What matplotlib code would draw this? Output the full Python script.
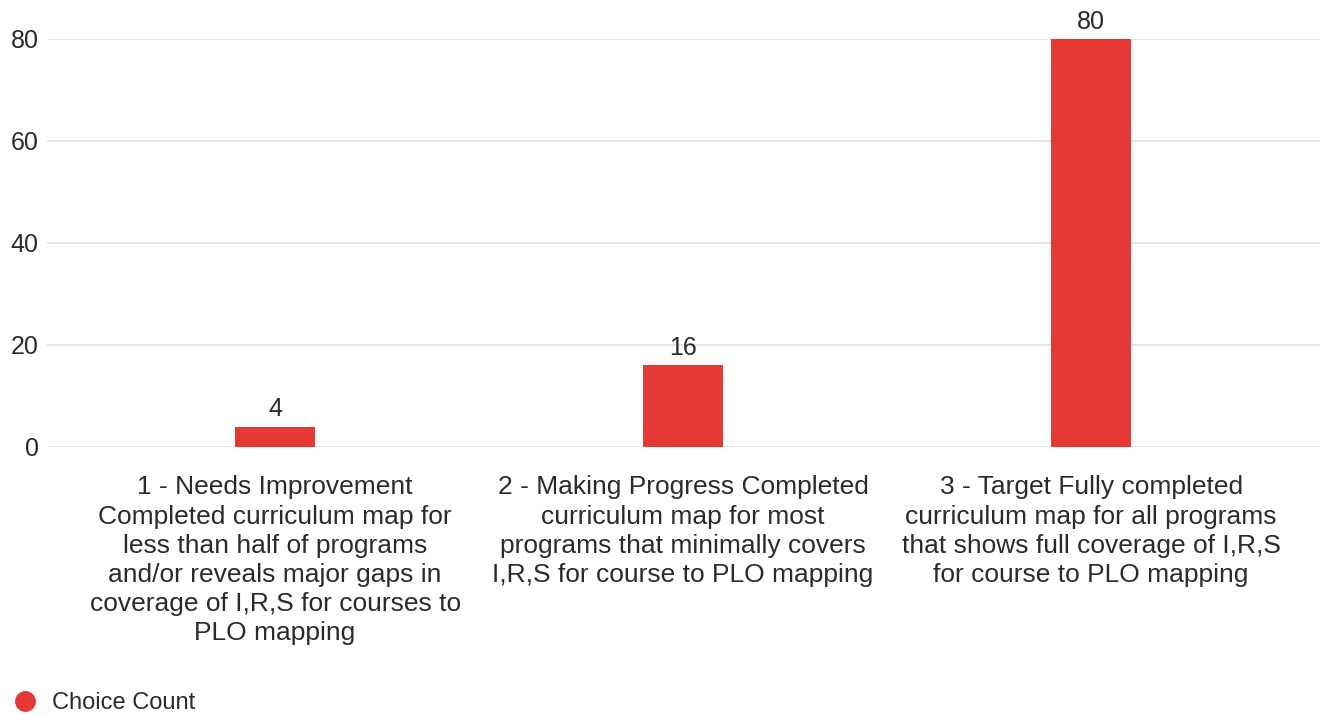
import matplotlib.pyplot as plt
from matplotlib.lines import Line2D

plt.rcParams['font.family'] = ['Liberation Sans', 'DejaVu Sans']

categories = [
    '1 - Needs Improvement\nCompleted curriculum map for\nless than half of programs\nand/or reveals major gaps in\ncoverage of I,R,S for courses to\nPLO mapping',
    '2 - Making Progress Completed\ncurriculum map for most\nprograms that minimally covers\nI,R,S for course to PLO mapping',
    '3 - Target Fully completed\ncurriculum map for all programs\nthat shows full coverage of I,R,S\nfor course to PLO mapping',
]
counts = [4, 16, 80]
series_name = 'Choice Count'
yticks = [0, 20, 40, 60, 80]

bar_color = '#e53935'
text_color = '#2b2b2b'

fig = plt.figure(figsize=(13.25, 7.15), dpi=100)
ax = fig.add_axes([47 / 1325, 1 - 447 / 715, 1273 / 1325, 408 / 715])

x = list(range(len(categories)))
ax.bar(x, counts, width=0.196, color=bar_color, zorder=3)
for xi, v in zip(x, counts):
    ax.text(xi, v + 1.0, str(v), ha='center', va='bottom', fontsize=18,
            color=text_color, clip_on=False)

ax.set_xlim(-0.559, 2.561)
ax.set_ylim(0, 80)
ax.set_yticks(yticks)
ax.set_xticks(x)
ax.set_xticklabels(categories, fontsize=19, color=text_color, linespacing=1.27)
ax.tick_params(axis='y', labelsize=18, labelcolor=text_color, length=0, pad=6)
ax.tick_params(axis='x', length=0, pad=20.5)
ax.yaxis.grid(True, color='#e0e0e0', linewidth=1.2, zorder=0)
for s in ax.spines.values():
    s.set_visible(False)

handle = Line2D([], [], marker='o', linestyle='none', markersize=14,
                markerfacecolor=bar_color, markeredgecolor=bar_color)
fig.legend([handle], [series_name], loc='center left',
           bbox_to_anchor=(13 / 1325, 1 - 703 / 715),
           frameon=False, fontsize=17, handlelength=1.0, handletextpad=0.65,
           labelcolor=text_color, borderaxespad=0, borderpad=0)

fig.savefig('out.png', dpi=100)
